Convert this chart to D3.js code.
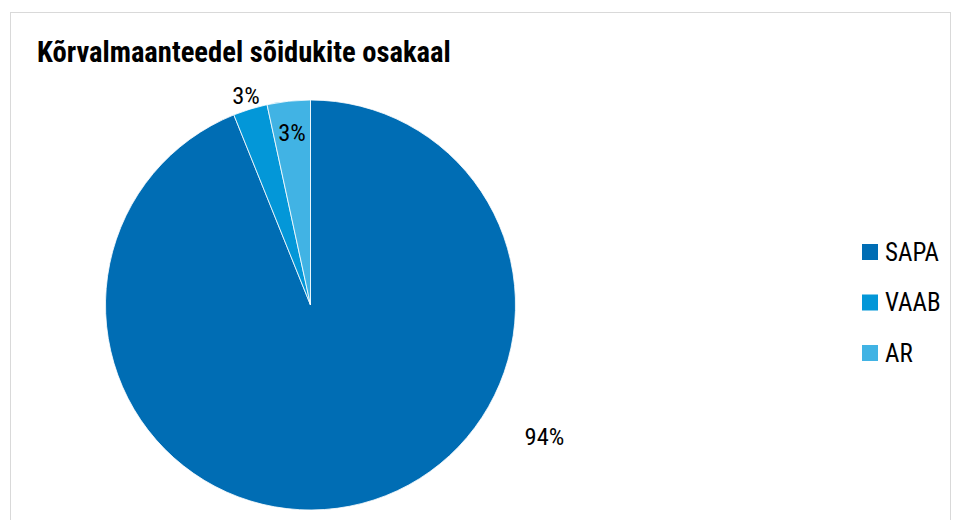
<!DOCTYPE html>
<html>
<head>
<meta charset="utf-8">
<script src="https://cdn.jsdelivr.net/npm/d3@7"></script>
<style>
body { margin:0; background:#fff; }
text { font-family: "Roboto Condensed", "Liberation Sans Narrow", "Roboto", sans-serif; fill:#000; }
</style>
</head>
<body>
<script>
// data
var categories = ['SAPA', 'VAAB', 'AR']
var values = [93.9, 2.7, 3.4]
var labels = ['94%', '3%', '3%']
var colors = ['#006db4', '#0397d8', '#41b3e4']

var width = 957, height = 520
var svg = d3.select('body').append('svg')
    .attr('width', width)
    .attr('height', height)

// frame
svg.append('rect')
    .attr('x', 10.5).attr('y', 12.5)
    .attr('width', 940).attr('height', 540)
    .attr('fill', 'none')
    .attr('stroke', '#d9d9d9')

svg.append('text')
    .attr('x', 37).attr('y', 62)
    .attr('font-size', 28.6)
    .attr('font-weight', 'bold')
    .text('Kõrvalmaanteedel sõidukite osakaal')

var cx = 310.5, cy = 305, r = 205
var pie = d3.pie().sort(null).value(function(d){ return d })
var arcs = pie(values)
var arc = d3.arc().innerRadius(0).outerRadius(r)

var chart = svg.append('g')
    .attr('transform', 'translate(' + cx + ',' + cy + ')')

chart.selectAll('path')
    .data(arcs)
    .enter().append('path')
    .attr('d', arc)
    .attr('fill', function(d, i){ return colors[i] })
    .attr('stroke', '#fff')
    .attr('stroke-width', 0.8)

// data labels: SAPA outside (moved to the right side), VAAB outside, AR inside
var labelRadius = [r * 1.31, r * 1.07, r * 0.845]
var labelAngle = function(d, i){
    if(i === 0) return 119.4 * Math.PI / 180
    return (d.startAngle + d.endAngle) / 2
}
chart.selectAll('.lbl')
    .data(arcs)
    .enter().append('text')
    .attr('class', 'lbl')
    .attr('font-size', 24.5)
    .attr('text-anchor', 'middle')
    .attr('dominant-baseline', 'central')
    .attr('transform', function(d, i){
        var a = labelAngle(d, i)
        var rr = labelRadius[i]
        return 'translate(' + (Math.sin(a) * rr) + ',' + (-Math.cos(a) * rr) + ')'
    })
    .text(function(d, i){ return labels[i] })

// legend
var legend = svg.append('g').attr('transform', 'translate(862,244)')
var item = legend.selectAll('g')
    .data(categories)
    .enter().append('g')
    .attr('transform', function(d, i){ return 'translate(0,' + (i * 50.5) + ')' })
item.append('rect')
    .attr('width', 16).attr('height', 16)
    .attr('fill', function(d, i){ return colors[i] })
item.append('text')
    .attr('x', 23).attr('y', 8)
    .attr('dominant-baseline', 'central')
    .attr('font-size', 25)
    .text(function(d){ return d })
</script>
</body>
</html>
